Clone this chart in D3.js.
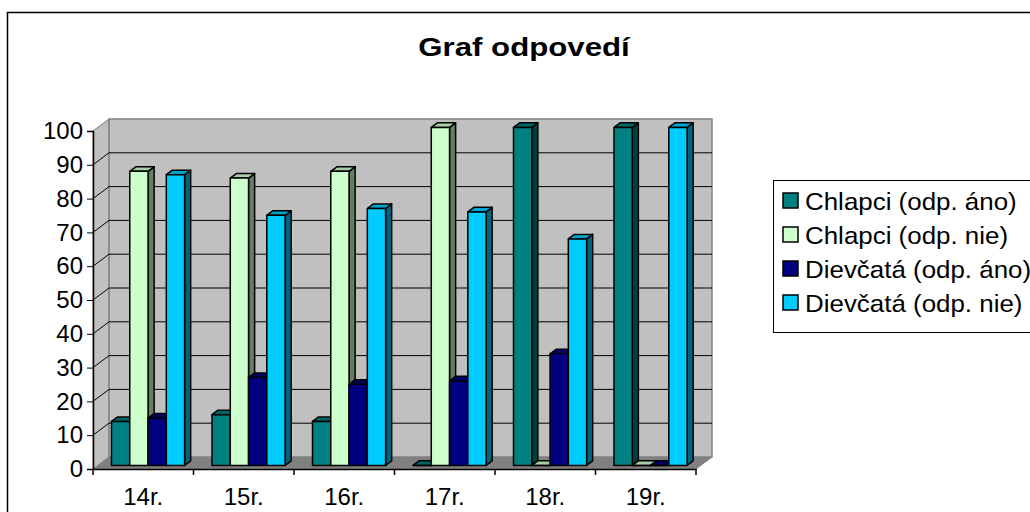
<!DOCTYPE html>
<html lang="sk">
<head>
  <meta charset="UTF-8">
  <title>Graf odpovedí</title>
  <script src="https://cdn.jsdelivr.net/npm/d3@7"></script>
  <style>
    body { margin: 0; background: #fff; }
    text { font-family: "Liberation Sans", Arial, sans-serif; fill: #000; }
    .title { font-size: 26px; font-weight: bold; text-anchor: middle; }
    .tick-lbl { font-size: 24px; }
    .legend text { font-size: 24px; }
  </style>
</head>
<body>
<script>
  // data
  const categories = ['14r.', '15r.', '16r.', '17r.', '18r.', '19r.']
  const seriesNames = ['Chlapci (odp. áno)', 'Chlapci (odp. nie)', 'Dievčatá (odp. áno)', 'Dievčatá (odp. nie)']
  const chlapciAno = [13, 15, 13, 0, 100, 100]
  const chlapciNie = [87, 85, 87, 100, 0, 0]
  const dievcataAno = [14, 26, 24, 25, 33, 0]
  const dievcataNie = [86, 74, 76, 75, 67, 100]
  const yTicks = [0, 10, 20, 30, 40, 50, 60, 70, 80, 90, 100]
  const colors = ['#008080', '#CCFFCC', '#000080', '#00CCFF']

  const series = [chlapciAno, chlapciNie, dievcataAno, dievcataNie]

  const width = 1030, height = 512
  const svg = d3.select('body').append('svg')
    .attr('width', width).attr('height', height)

  // chart area border (right/bottom run off the picture)
  svg.append('rect')
    .attr('x', 7.5).attr('y', 12.5).attr('width', 1100).attr('height', 600)
    .attr('fill', '#fff').attr('stroke', '#000').attr('stroke-width', 1.5)

  // the original text is drawn a bit wider than Liberation Sans, hence the x-stretch
  svg.append('text').attr('class', 'title')
    .attr('transform', 'translate(524,56) scale(1.2,1)').text('Graf odpovedí')

  // scales (front plane)
  const x0 = 93, x1 = 696
  const x = d3.scaleBand().domain(categories).range([x0, x1])
  const xs = d3.scaleBand().domain(d3.range(series.length))
    .range([0, x.bandwidth()]).paddingInner(0).paddingOuter(0.75)
  const y = d3.scaleLinear().domain([0, 100]).range([469, 131])

  // depth offset: t=0 front, t=1 back wall
  const DX = 16, DY = -12
  const off = (p, t) => [p[0] + DX * t, p[1] + DY * t]
  const poly = pts => pts.map(p => p.join(',')).join(' ')

  const walls = svg.append('g')
  // floor
  walls.append('polygon')
    .attr('points', poly([[x0, y(0)], [x1, y(0)], off([x1, y(0)], 1), off([x0, y(0)], 1)]))
    .attr('fill', '#808080').attr('stroke', '#808080')
  // side wall
  walls.append('polygon')
    .attr('points', poly([[x0, y(0)], [x0, y(100)], off([x0, y(100)], 1), off([x0, y(0)], 1)]))
    .attr('fill', '#C0C0C0').attr('stroke', '#808080')
  // back wall
  walls.append('polygon')
    .attr('points', poly([off([x0, y(0)], 1), off([x0, y(100)], 1), off([x1, y(100)], 1), off([x1, y(0)], 1)]))
    .attr('fill', '#C0C0C0').attr('stroke', '#808080').attr('stroke-width', 1.5)

  // gridlines on side and back wall
  const grid = svg.append('g').attr('stroke', '#000').attr('stroke-width', 1)
  yTicks.filter(v => v > 0 && v < 100).forEach(v => {
    const a = [x0, y(v)], b = off(a, 1), c = off([x1, y(v)], 1)
    grid.append('polyline').attr('points', poly([a, b, c])).attr('fill', 'none')
  })

  // bars
  const tF = 0.3, tB = 0.68
  const barsG = svg.append('g').attr('stroke', '#000').attr('stroke-width', 1.5)
    .attr('stroke-linejoin', 'round')
  categories.forEach((cat, ci) => {
    series.forEach((vals, si) => {
      const bx = x(cat) + xs(si), bw = xs.bandwidth()
      const yb = y(0), yt = y(vals[ci])
      const fbl = off([bx, yb], tF), fbr = off([bx + bw, yb], tF)
      const ftl = off([bx, yt], tF), ftr = off([bx + bw, yt], tF)
      const btl = off([bx, yt], tB), btr = off([bx + bw, yt], tB), bbr = off([bx + bw, yb], tB)
      const c = d3.rgb(colors[si])
      barsG.append('polygon').attr('points', poly([fbr, ftr, btr, bbr]))
        .attr('fill', c.darker(2))
      barsG.append('polygon').attr('points', poly([ftl, ftr, btr, btl]))
        .attr('fill', c.darker(0.6))
      barsG.append('polygon').attr('points', poly([fbl, fbr, ftr, ftl]))
        .attr('fill', c)
    })
  })

  // axes
  const yAxis = d3.axisLeft(y).tickValues(yTicks).tickSize(6).tickPadding(4)
  const gy = svg.append('g').attr('transform', `translate(${x0},0)`).call(yAxis)
  gy.selectAll('text').attr('class', 'tick-lbl').attr('font-size', null).attr('font-family', null)
  gy.select('.domain').attr('stroke', '#000').attr('stroke-width', 1.5)

  const xAxis = d3.axisBottom(x).tickSize(0).tickPadding(19)
  const gx = svg.append('g').attr('transform', `translate(0,${y(0)})`).call(xAxis)
  gx.selectAll('text').attr('class', 'tick-lbl').attr('font-size', null).attr('font-family', null)
  gx.select('.domain').attr('stroke', '#000').attr('stroke-width', 1.5)
  // category separator ticks
  gx.selectAll('.sep').data(d3.range(categories.length + 1)).enter().append('line')
    .attr('x1', i => x0 + i * x.step()).attr('x2', i => x0 + i * x.step())
    .attr('y1', 0).attr('y2', 6).attr('stroke', '#000').attr('stroke-width', 1.5)

  // legend
  const lg = svg.append('g').attr('class', 'legend')
  lg.append('rect').attr('x', 773.5).attr('y', 180.5).attr('width', 300).attr('height', 152)
    .attr('fill', '#fff').attr('stroke', '#000').attr('stroke-width', 1)
  seriesNames.forEach((name, i) => {
    const ry = 201 + i * 34
    lg.append('rect').attr('x', 783).attr('y', ry - 8).attr('width', 15).attr('height', 15)
      .attr('fill', colors[i]).attr('stroke', '#000').attr('stroke-width', 1.5)
    lg.append('text').attr('transform', `translate(805,${ry}) scale(1.08,1)`)
      .attr('dy', '0.36em').text(name)
  })
</script>
</body>
</html>
